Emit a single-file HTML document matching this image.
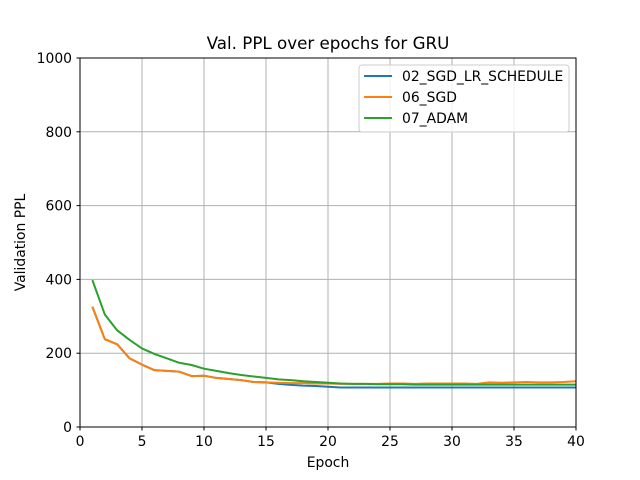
<!DOCTYPE html>
<html><head><meta charset="utf-8"><style>
body{margin:0;background:#fff}
svg{display:block;font-family:"DejaVu Sans","Liberation Sans",sans-serif}
</style></head><body>
<svg id="chart" width="640" height="480">
<rect x="0" y="0" width="640" height="480" fill="#fff"/>
<text x="328" y="49" text-anchor="middle" font-size="16.7">Val. PPL over epochs for GRU</text>
<g id="grid"></g>
<g id="series"></g>
<rect x="80" y="58" width="496" height="369" fill="none" stroke="#000" stroke-width="1"/>
<g id="ticks"></g>
<text x="328" y="467" text-anchor="middle" font-size="13.9">Epoch</text>
<text transform="translate(25,242.5) rotate(-90)" text-anchor="middle" font-size="13.9">Validation PPL</text>
<g>
<rect x="359" y="65" width="210" height="67" rx="3" fill="#fff" fill-opacity="0.8" stroke="#ccc"/>
<g><line x1="364" y1="76" x2="392" y2="76" stroke="#1f77b4" stroke-width="2"/><text x="402" y="81" font-size="13.9">02_SGD_LR_SCHEDULE</text></g>
<g><line x1="364" y1="97" x2="392" y2="97" stroke="#ff7f0e" stroke-width="2"/><text x="402" y="102" font-size="13.9">06_SGD</text></g>
<g><line x1="364" y1="118" x2="392" y2="118" stroke="#2ca02c" stroke-width="2"/><text x="402" y="123" font-size="13.9">07_ADAM</text></g>
</g>
</svg>
<script>
const epochs=[1,2,3,4,5,6,7,8,9,10,11,12,13,14,15,16,17,18,19,20,21,22,23,24,25,26,27,28,29,30,31,32,33,34,35,36,37,38,39,40];
const sgdLrSchedule=[326,238,224,186,169,154,152,150,138,139,133,130,127,122,121,117,114,112,111,109,107,107,107,107,107,107,107,107,107,107,107,107,107,107,107,107,107,107,107,107];
const sgd=[326,238,224,186,169,154,152,150,138,139,133,130,127,122,121,120,119,119,118,118,117,117,117,117,118,118,117,118,118,118,118,117,121,120,121,122,121,121,122,124];
const adam=[398,305,262,236,213,198,186,174,168,158,152,146,141,137,133,129,127,124,122,120,118,117,117,116,116,116,115,115,115,115,115,115,115,115,115,115,115,115,115,115];
const xTicks=[0,5,10,15,20,25,30,35,40];
const yTicks=[0,200,400,600,800,1000];
const X=v=>80+v/40*496, Y=v=>427-v/1000*369;
const NS="http://www.w3.org/2000/svg";
const grid=document.getElementById('grid'),ticks=document.getElementById('ticks'),ser=document.getElementById('series');
function mk(tag,at,p){const e=document.createElementNS(NS,tag);for(const k in at)e.setAttribute(k,at[k]);p.appendChild(e);return e;}
xTicks.forEach(t=>{
 const g=mk('line',{x1:X(t),x2:X(t),y1:58,y2:427,stroke:'#b0b0b0','stroke-width':1},grid);
 
 
 const k=mk('line',{x1:X(t),x2:X(t),y1:427,y2:430.5,stroke:'#000'},ticks);
 
 
 const l=mk('text',{x:X(t),y:446,'text-anchor':'middle','font-size':13.9},ticks);l.textContent=t;
 
 
});
yTicks.forEach(t=>{
 const g=mk('line',{x1:80,x2:576,y1:Y(t),y2:Y(t),stroke:'#b0b0b0','stroke-width':1},grid);
 
 
 const k=mk('line',{x1:76.5,x2:80,y1:Y(t),y2:Y(t),stroke:'#000'},ticks);
 
 
 const l=mk('text',{x:72,y:Y(t)+5,'text-anchor':'end','font-size':13.9},ticks);l.textContent=t;
 
 
});
[[sgdLrSchedule,'#1f77b4','line-02-sgd-lr-schedule'],[sgd,'#ff7f0e','line-06-sgd'],[adam,'#2ca02c','line-07-adam']].forEach(([d,c,n])=>{
 const p=mk('polyline',{points:d.map((v,i)=>X(epochs[i])+','+Y(v)).join(' '),fill:'none',stroke:c,'stroke-width':2,'stroke-linejoin':'round'},ser);
 
 
});
</script>
</body></html>
